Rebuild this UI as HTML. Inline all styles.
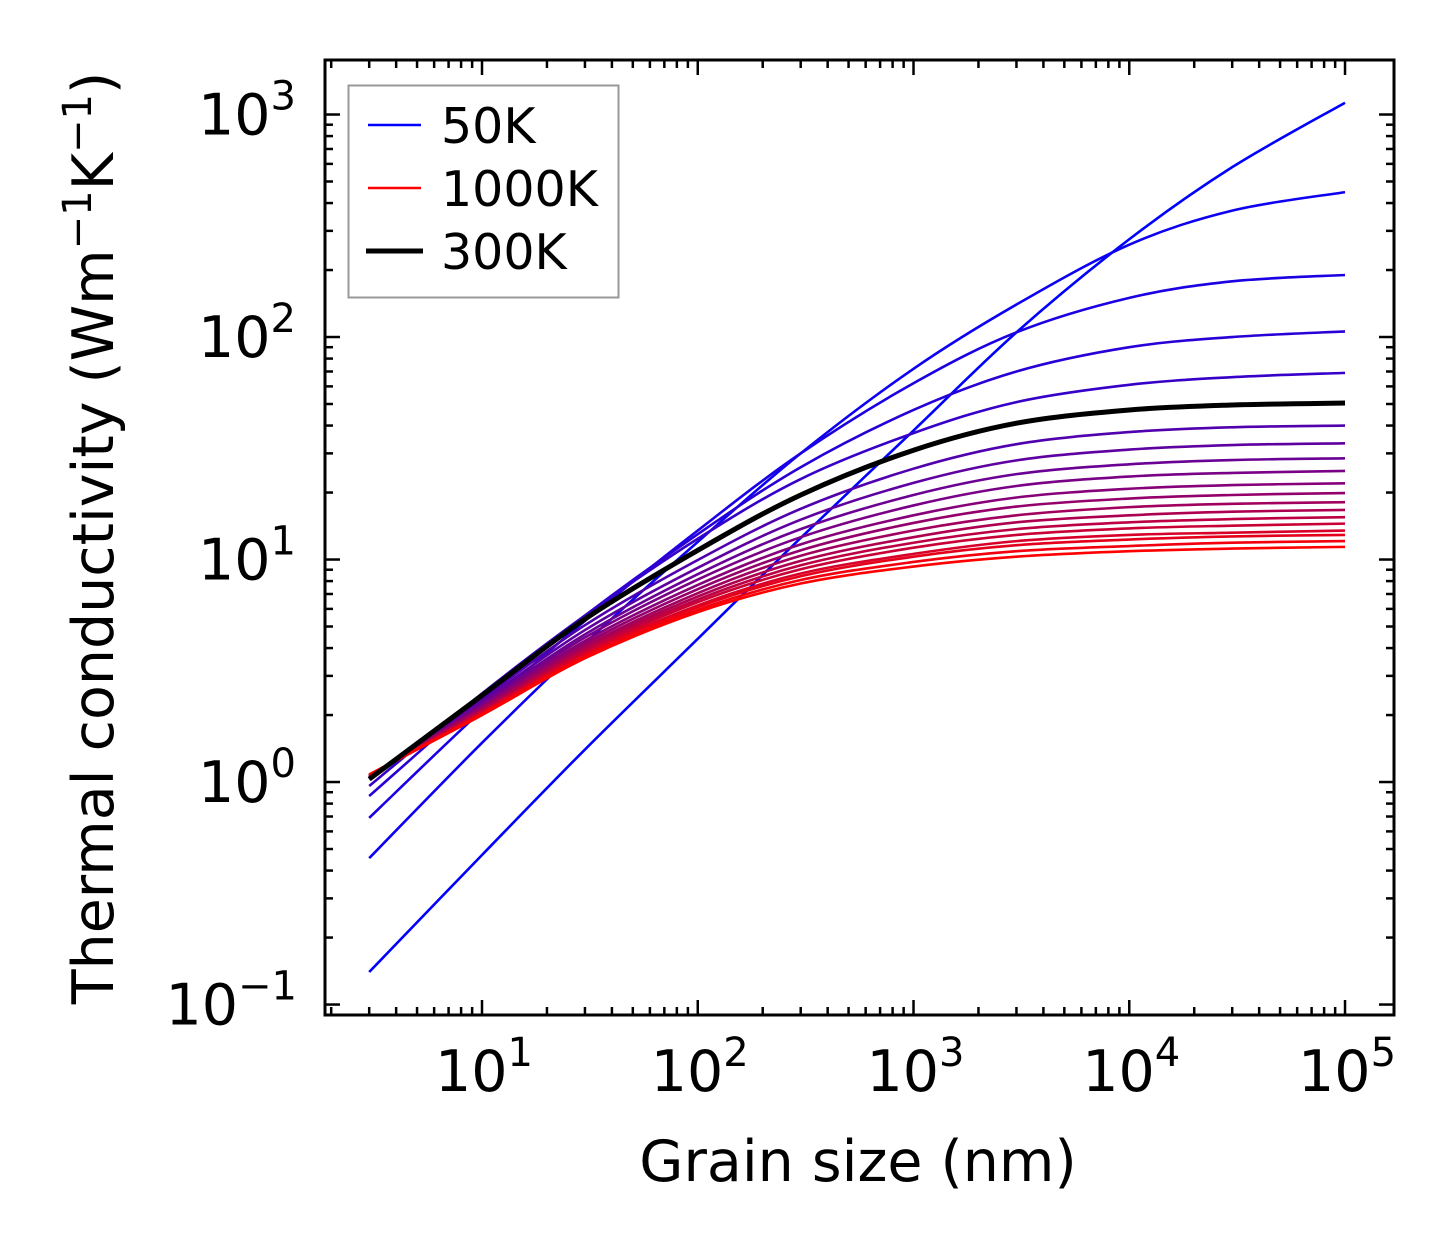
<!DOCTYPE html>
<html><head><meta charset="utf-8"><style>
html,body{margin:0;padding:0;background:#fff;}
svg{display:block;font-family:"DejaVu Sans","Liberation Sans",sans-serif;}
</style></head><body>
<svg id="chart" width="1454" height="1254" viewBox="0 0 1454 1254" xmlns="http://www.w3.org/2000/svg">
<rect x="0" y="0" width="1454" height="1254" fill="#fff"/>
<g id="curves"></g>
<g id="axes"></g>
<text x="858" y="1181" font-size="57" text-anchor="middle">Grain size (nm)</text>
<text transform="translate(113,538) rotate(-90)" font-size="57" text-anchor="middle">Thermal conductivity (Wm<tspan font-size="40" dy="-22">−1</tspan><tspan dy="22">K</tspan><tspan font-size="40" dy="-22">−1</tspan><tspan dy="22">)</tspan></text>
<g>
<rect x="348.5" y="85.5" width="270" height="212" fill="#fff" stroke="#999" stroke-width="2"/>
<g><line x1="368" y1="125" x2="421" y2="125" stroke="#0000ff" stroke-width="2.5"/><text x="441" y="143" font-size="49">50K</text></g>
<g><line x1="368" y1="188" x2="421" y2="188" stroke="#ff0000" stroke-width="2.5"/><text x="441" y="206" font-size="49">1000K</text></g>
<g><line x1="366" y1="251" x2="423" y2="251" stroke="#000" stroke-width="5"/><text x="441" y="269" font-size="49">300K</text></g>
</g>
</svg>
<script>
const grainSizes = [3, 10, 30, 100, 300, 1000, 3000, 10000, 30000, 100000];
const temps = [50,100,150,200,250,300,350,400,450,500,550,600,650,700,750,800,850,900,950,1000];
const k50  = [0.14,0.47,1.4,4.4,12.5,38,105,275,580,1130];
const k100 = [0.455,1.5,4.2,12,30,72,140,260,370,448];
const k150 = [0.69,2.1,5.3,13.5,30,62,105,150,178,190];
const k200 = [0.865,2.4,5.6,13,26,47,70,90,100,106];
const k250 = [0.96,2.5,5.6,12.4,23,37,51,61,66,69];
const k300 = [1.03,2.45,5.4,11,19.5,31,41,47,49.5,50.5];
const k350 = [1.04,2.37,5.07,9.95,16.9,25.6,33.0,37.4,39.3,40.0];
const k400 = [1.04,2.31,4.82,9.18,15.1,22.1,27.9,31.2,32.7,33.3];
const k450 = [1.05,2.26,4.61,8.59,13.7,19.5,24.2,26.8,28.0,28.5];
const k500 = [1.05,2.22,4.46,8.13,12.6,17.5,21.4,23.6,24.5,25.0];
const k550 = [1.06,2.19,4.31,7.69,11.7,15.8,19.0,20.8,21.6,22.0];
const k600 = [1.06,2.16,4.19,7.36,11.0,14.6,17.3,18.8,19.5,19.9];
const k650 = [1.06,2.13,4.08,7.06,10.4,13.5,15.8,17.2,17.8,18.1];
const k700 = [1.07,2.11,3.99,6.82,9.86,12.6,14.7,15.8,16.4,16.7];
const k750 = [1.07,2.08,3.91,6.61,9.42,11.9,13.7,14.7,15.2,15.5];
const k800 = [1.07,2.07,3.84,6.43,9.04,11.3,12.9,13.8,14.2,14.5];
const k850 = [1.07,2.05,3.77,6.22,8.65,10.6,12.1,12.9,13.2,13.5];
const k900 = [1.07,2.03,3.72,6.11,8.41,10.3,11.6,12.3,12.7,12.9];
const k950 = [1.08,2.02,3.66,5.94,8.09,9.75,10.9,11.5,11.9,12.1];
const k1000= [1.08,2.0,3.6,5.8,7.8,9.3,10.3,10.9,11.2,11.4];
const series = [k50,k100,k150,k200,k250,k300,k350,k400,k450,k500,k550,k600,k650,k700,k750,k800,k850,k900,k950,k1000];
const highlight = k300;
const xTickExps = [1,2,3,4,5];
const yTickExps = [-1,0,1,2,3];

const NS = "http://www.w3.org/2000/svg";
const L = 325, R = 1394, T = 60, B = 1015;
const xMin = 0.2723, xMax = 5.227, yMin = -1.047, yMax = 3.245;
function xs(v){ return L + (Math.log10(v) - xMin) / (xMax - xMin) * (R - L); }
function ys(v){ return B - (Math.log10(v) - yMin) / (yMax - yMin) * (B - T); }
function mk(tag, attrs, parent){ const e = document.createElementNS(NS, tag); for (const k in attrs) e.setAttribute(k, attrs[k]); parent.appendChild(e); return e; }

function pathFor(vals){
  const p = grainSizes.map((g,i)=>[xs(g), ys(vals[i])]);
  let d = "M" + p[0][0].toFixed(2) + "," + p[0][1].toFixed(2);
  for (let i=0;i<p.length-1;i++){
    const p0 = p[Math.max(0,i-1)], p1 = p[i], p2 = p[i+1], p3 = p[Math.min(p.length-1,i+2)];
    const c1x = p1[0] + (p2[0]-p0[0])/6, c1y = p1[1] + (p2[1]-p0[1])/6;
    const c2x = p2[0] - (p3[0]-p1[0])/6, c2y = p2[1] - (p3[1]-p1[1])/6;
    d += " C" + c1x.toFixed(2)+","+c1y.toFixed(2)+" "+c2x.toFixed(2)+","+c2y.toFixed(2)+" "+p2[0].toFixed(2)+","+p2[1].toFixed(2);
  }
  return d;
}
const cg = document.getElementById('curves');
const n = series.length;
for (let i=0;i<n;i++){
  const t = i/(n-1);
  const col = "rgb(" + Math.round(255*t) + ",0," + Math.round(255*(1-t)) + ")";
  const el = mk('path', {d: pathFor(series[i]), fill:'none', stroke: col, 'stroke-width': 2.6}, cg);
  
  
}
const hl = mk('path', {d: pathFor(highlight), fill:'none', stroke:'#000', 'stroke-width': 5}, cg);



const ag = document.getElementById('axes');
const frame = mk('rect', {x:L, y:T, width:R-L, height:B-T, fill:'none', stroke:'#000', 'stroke-width':3}, ag);


for (let e=0;e<=5;e++){
  for (let m=1;m<=9;m++){
    const v = m*Math.pow(10,e);
    const lv = Math.log10(v);
    if (lv < xMin || lv > xMax) continue;
    const x = xs(v), len = m===1 ? 15 : 8;
    const tb = mk('line', {x1:x, x2:x, y1:B, y2:B-len, stroke:'#000', 'stroke-width':2.5}, ag);
    
    
    const tt = mk('line', {x1:x, x2:x, y1:T, y2:T+len, stroke:'#000', 'stroke-width':2.5}, ag);
    
    
  }
}
for (const e of yTickExps.concat([-2])){
  for (let m=1;m<=9;m++){
    const v = m*Math.pow(10,e);
    const lv = Math.log10(v);
    if (lv < yMin || lv > yMax) continue;
    const y = ys(v), len = m===1 ? 15 : 8;
    const tl = mk('line', {x1:L, x2:L+len, y1:y, y2:y, stroke:'#000', 'stroke-width':2.5}, ag);
    
    
    const tr = mk('line', {x1:R, x2:R-len, y1:y, y2:y, stroke:'#000', 'stroke-width':2.5}, ag);
    
    
  }
}
for (const e of xTickExps){
  const x = xs(Math.pow(10,e));
  const t = mk('text', {x: x+2, y: 1091, 'font-size': 57, 'text-anchor':'middle'}, ag);
  
  
  t.innerHTML = '10<tspan font-size="40" dy="-25">' + e + '</tspan>';
}
for (const e of yTickExps){
  const y = ys(Math.pow(10,e));
  const t = mk('text', {x: e<0 ? 297 : 296, y: y+20, 'font-size': 57, 'text-anchor':'end'}, ag);
  
  
  t.innerHTML = '10<tspan font-size="40" dy="-25">' + (e<0 ? '−' + (-e) : e) + '</tspan>';
}
</script>
</body></html>
